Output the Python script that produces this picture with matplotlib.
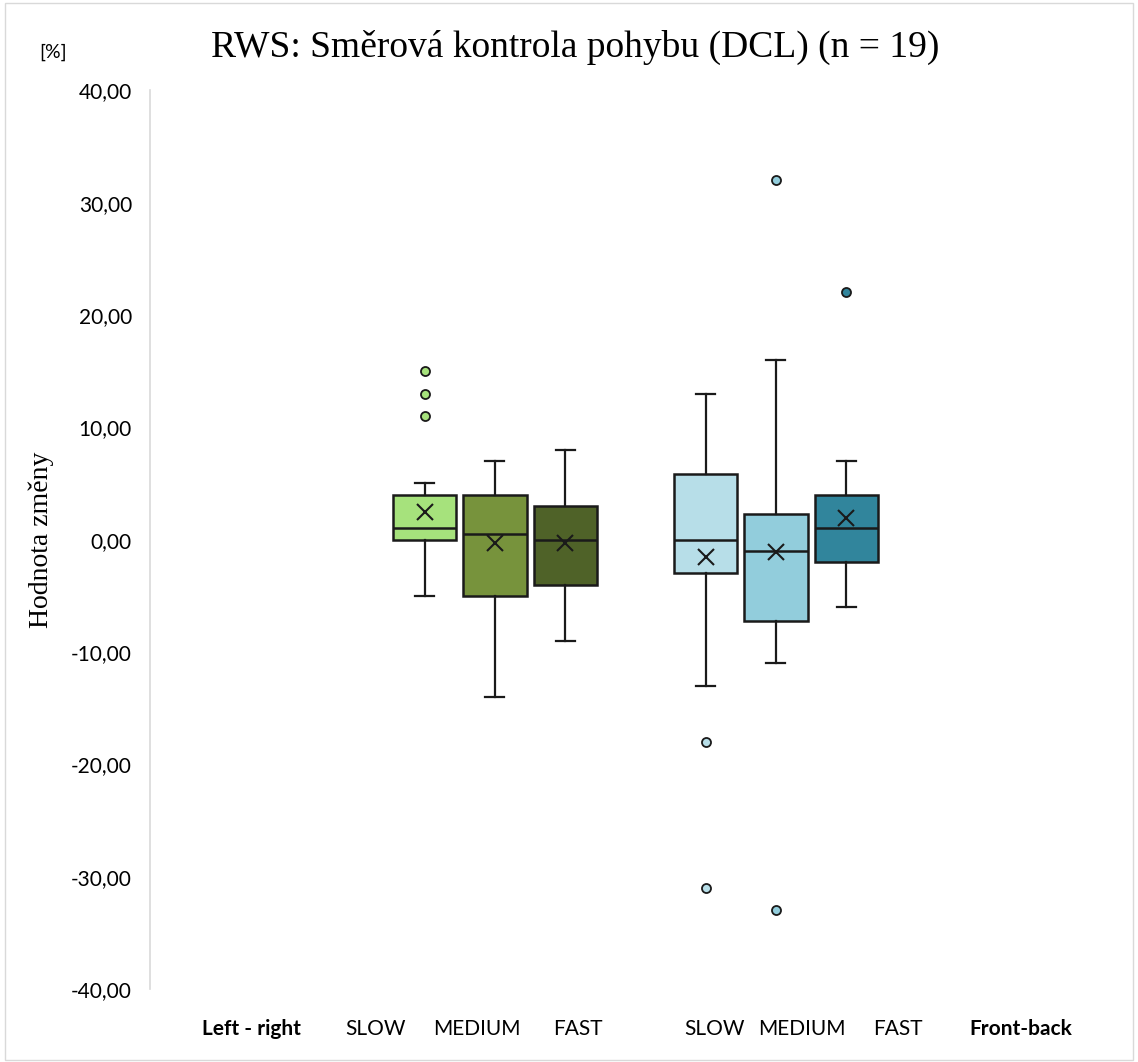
import matplotlib
matplotlib.use("Agg")
import matplotlib.pyplot as plt
from matplotlib.patches import Rectangle
from matplotlib.ticker import FuncFormatter

# ---- data ----
groups = ["Left - right", "Front-back"]
speeds = ["SLOW", "MEDIUM", "FAST"]
positions = [0, 1, 2, 4, 5, 6]
q1 = [0.0, -5.0, -4.0, -3.0, -7.2, -2.0]
q3 = [4.0, 4.0, 3.0, 5.8, 2.3, 4.0]
med = [1.0, 0.5, 0.0, 0.0, -1.0, 1.0]
whislo = [-5.0, -14.0, -9.0, -13.0, -11.0, -6.0]
whishi = [5.0, 7.0, 8.0, 13.0, 16.0, 7.0]
means = [2.5, -0.3, -0.3, -1.5, -1.1, 1.9]
fliers = [[11.0, 13.0, 15.0], [], [], [-18.0, -31.0], [32.0, -33.0], [22.0]]
colors = ["#A6E27C", "#77933C", "#4F6228", "#B7DEE8", "#92CDDC", "#31859C"]

bottom_labels = ["Left - right", "SLOW", "MEDIUM", "FAST", "SLOW", "MEDIUM", "FAST", "Front-back"]
bottom_bold = [True, False, False, False, False, False, False, True]
bottom_x = [-2.46, -0.70, 0.74, 2.18, 4.13, 5.37, 6.73, 8.49]

yticks = [-40, -30, -20, -10, 0, 10, 20, 30, 40]

fig = plt.figure(figsize=(11.38, 10.62), dpi=100)
fig.patches.append(Rectangle((0.004, 0.002), 0.992, 0.995, transform=fig.transFigure,
                             fill=False, edgecolor="#d9d9d9", linewidth=1.0))
ax = fig.add_axes([0.1318, 0.0687, 0.985 - 0.1318, 0.915 - 0.0687])

stats = []
for i in range(len(positions)):
    stats.append(dict(q1=q1[i], q3=q3[i], med=med[i], whislo=whislo[i], whishi=whishi[i],
                      mean=means[i], fliers=fliers[i]))

bp = ax.bxp(stats, positions=positions, widths=0.9, patch_artist=True,
            showmeans=True, showfliers=True, capwidths=0.27,
            boxprops=dict(linewidth=1.8, edgecolor="#1a1a1a"),
            medianprops=dict(color="#1a1a1a", linewidth=1.8),
            whiskerprops=dict(color="#1a1a1a", linewidth=1.6),
            capprops=dict(color="#1a1a1a", linewidth=1.6),
            meanprops=dict(marker="x", markeredgecolor="#1a1a1a", markersize=12,
                           markeredgewidth=1.5, linestyle="none"))
for i, box in enumerate(bp["boxes"]):
    box.set_facecolor(colors[i])
for i, fl in enumerate(bp["fliers"]):
    fl.set_marker("o")
    fl.set_markerfacecolor(colors[i])
    fl.set_markeredgecolor("#1a1a1a")
    fl.set_markersize(6.5)
    fl.set_markeredgewidth(1.3)

ax.set_xlim(-3.91, 9.91)
ax.set_ylim(-40, 40)
ax.set_yticks(yticks)
ax.yaxis.set_major_formatter(FuncFormatter(lambda v, p: f"{v:.2f}".replace(".", ",")))
ax.tick_params(axis="y", length=0, pad=13, labelsize=15)
for lab in ax.get_yticklabels():
    lab.set_fontfamily("Lato")
ax.set_xticks([])
for s in ["top", "right", "bottom"]:
    ax.spines[s].set_visible(False)
ax.spines["left"].set_color("#d9d9d9")
ax.spines["left"].set_linewidth(1.2)

for lab, x, b in zip(bottom_labels, bottom_x, bottom_bold):
    ax.text(x, -0.045, lab, transform=ax.get_xaxis_transform(), ha="center", va="center",
            fontsize=15, fontfamily="Lato", fontweight="bold" if b else "normal")

fig.text(0.505, 0.955, "RWS: Směrová kontrola pohybu (DCL) (n = 19)", ha="center", va="center",
         fontsize=27, fontfamily="Liberation Serif")
fig.text(0.036, 0.492, "Hodnota změny", rotation=90, ha="center", va="center",
         fontsize=20, fontfamily="Liberation Serif")
fig.text(0.047, 0.951, "[%]", ha="center", va="center", fontsize=14, fontfamily="Lato")

fig.savefig("out.png", dpi=100, facecolor="white")
